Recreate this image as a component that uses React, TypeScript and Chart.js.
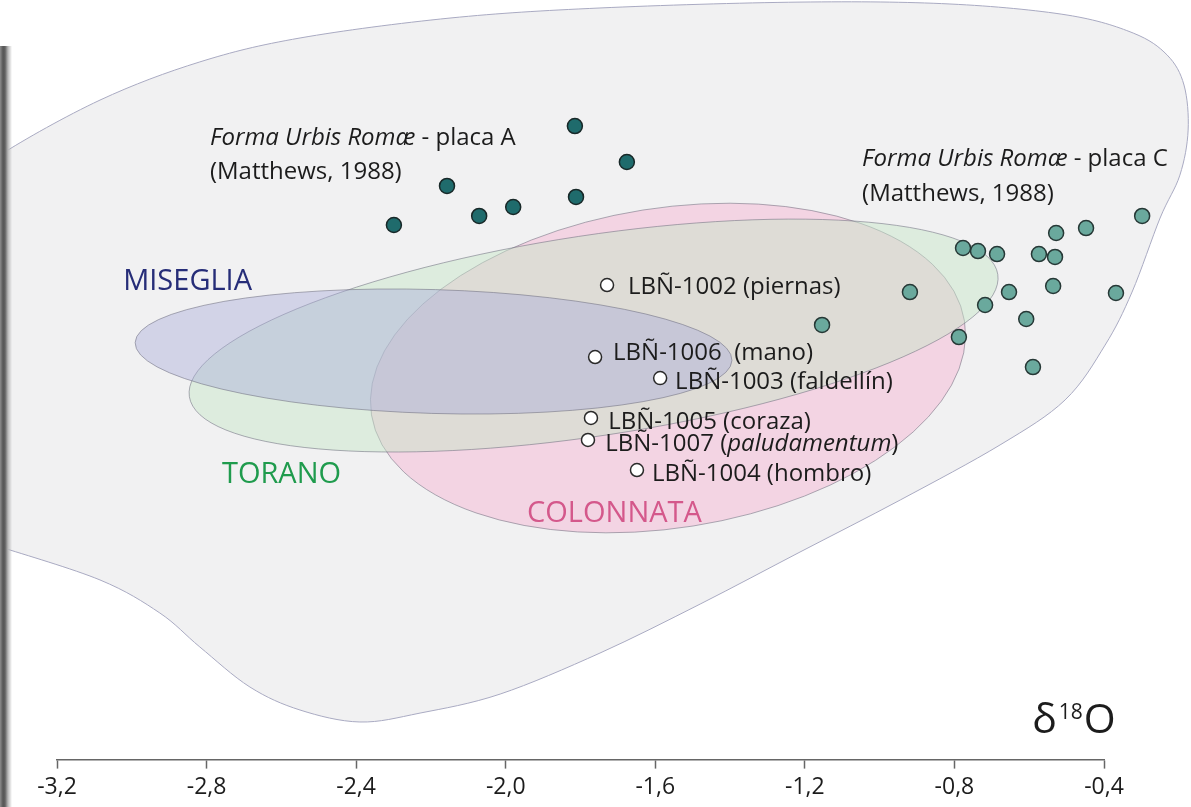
import React, { useEffect, useRef } from 'react';
import { Chart, registerables } from 'chart.js';

Chart.register(...registerables);

// ---------- axis ----------
const X_MIN = -3.2;
const X_MAX = -0.4;
const X_STEP = 0.4;
// hidden vertical axis (δ13C-like units)
const Y_MIN = 0;
const Y_MAX = 4;

// ---------- Forma Urbis Romæ – placa A (Matthews, 1988) ----------
const placaAX = [-1.815, -1.676, -2.157, -1.980, -2.071, -1.812, -2.299];
const placaAY = [3.336, 3.147, 3.021, 2.910, 2.863, 2.963, 2.815];

// ---------- Forma Urbis Romæ – placa C (Matthews, 1988) ----------
const placaCX = [-0.298, -0.448, -0.528, -0.777, -0.737, -0.686, -0.574, -0.531, -0.919, -0.368, -0.536, -0.654, -0.718, -0.608, -0.788, -0.590, -1.154];
const placaCY = [2.863, 2.799, 2.773, 2.694, 2.678, 2.662, 2.662, 2.647, 2.462, 2.457, 2.494, 2.462, 2.394, 2.320, 2.225, 2.067, 2.289];

// ---------- LBÑ samples ----------
const lbnNames = ['LBÑ-1002 (piernas)', 'LBÑ-1006  (mano)', 'LBÑ-1003 (faldellín)', 'LBÑ-1005 (coraza)', 'LBÑ-1007 (*paludamentum*)', 'LBÑ-1004 (hombro)'];
const lbnX = [-1.729, -1.761, -1.587, -1.772, -1.780, -1.649];
const lbnY = [2.499, 2.120, 2.009, 1.799, 1.683, 1.525];
const lbnLabelX = [-1.673, -1.713, -1.547, -1.726, -1.734, -1.609];
const lbnLabelY = [2.499, 2.152, 1.999, 1.788, 1.672, 1.514];

// ---------- general field (grey envelope), closed outline ----------
const fieldX = [-3.459, -3.352, -3.085, -2.818, -2.550, -2.149, -1.748, -1.213, -0.812, -0.499, -0.322, -0.231, -0.186, -0.175, -0.197, -0.250, -0.325, -0.397, -0.504, -0.678, -0.945, -1.213, -1.480, -1.748, -2.015, -2.229, -2.390, -2.550, -2.684, -2.818, -2.925, -3.085, -3.352, -3.459, -3.513];
const fieldY = [2.999, 3.184, 3.473, 3.674, 3.800, 3.905, 3.958, 3.989, 3.979, 3.921, 3.826, 3.710, 3.552, 3.315, 3.078, 2.852, 2.462, 2.183, 1.894, 1.657, 1.367, 1.093, 0.819, 0.561, 0.345, 0.245, 0.198, 0.261, 0.382, 0.593, 0.772, 0.946, 1.120, 1.183, 2.104];

// ---------- quarry ellipses: centre, end of semi-major axis, end of semi-minor axis ----------
const quarryNames = ['COLONNATA', 'TORANO', 'MISEGLIA'];
const quarryCX = [-1.566, -1.765, -2.193];
const quarryCY = [2.062, 2.233, 2.149];
const quarryAX = [-0.773, -0.684, -1.395];
const quarryAY = [2.309, 2.555, 2.102];
const quarryBX = [-1.499, -1.725, -2.198];
const quarryBY = [1.230, 1.711, 1.823];

// ---------- text annotations ----------
const noteText = ['*Forma Urbis Romæ* - placa A', '(Matthews, 1988)', '*Forma Urbis Romæ* - placa C', '(Matthews, 1988)', 'MISEGLIA', 'TORANO', 'COLONNATA'];
const noteX = [-2.791, -2.791, -1.047, -1.047, -3.023, -2.759, -1.943];
const noteY = [3.279, 3.105, 3.173, 2.989, 2.526, 1.509, 1.304];
const noteKind = ['ref', 'ref', 'ref', 'ref', 'MISEGLIA', 'TORANO', 'COLONNATA'];

const axisTitleX = -0.592;
const axisTitleY = 0.138;

// ---------- styles ----------
const FONT = '"Open Sans", "Noto Sans", sans-serif';
const quarryFill: Record<string, string> = {
  COLONNATA: 'rgba(246,186,212,0.52)',
  TORANO: 'rgba(198,230,200,0.47)',
  MISEGLIA: 'rgba(168,170,216,0.42)',
};
const noteStyle: Record<string, { size: number; color: string }> = {
  ref: { size: 24, color: '#1c1c1c' },
  MISEGLIA: { size: 29, color: '#262d78' },
  TORANO: { size: 29, color: '#1f9b4d' },
  COLONNATA: { size: 29, color: '#d4588b' },
};

function drawRich(ctx: CanvasRenderingContext2D, text: string, x: number, yCenter: number, size: number, color: string) {
  const parts = text.split('*');
  let cx = x;
  const base = yCenter + size * 0.357;
  ctx.fillStyle = color;
  ctx.textBaseline = 'alphabetic';
  ctx.textAlign = 'left';
  parts.forEach((part, i) => {
    if (!part) return;
    ctx.font = `${i % 2 === 1 ? 'italic ' : ''}${size}px ${FONT}`;
    ctx.fillText(part, cx, base);
    cx += ctx.measureText(part).width;
  });
}

const shapesPlugin = {
  id: 'shapes',
  beforeDatasetsDraw(chart: any) {
    const ctx: CanvasRenderingContext2D = chart.ctx;
    const xs = chart.scales.x;
    const ys = chart.scales.y;
    // grey field
    const pts = fieldX.map((x, i) => [xs.getPixelForValue(x), ys.getPixelForValue(fieldY[i])]);
    const n = pts.length;
    ctx.save();
    ctx.beginPath();
    ctx.moveTo(pts[0][0], pts[0][1]);
    for (let i = 0; i < n; i++) {
      const p0 = pts[(i - 1 + n) % n];
      const p1 = pts[i];
      const p2 = pts[(i + 1) % n];
      const p3 = pts[(i + 2) % n];
      ctx.bezierCurveTo(
        p1[0] + (p2[0] - p0[0]) / 6, p1[1] + (p2[1] - p0[1]) / 6,
        p2[0] - (p3[0] - p1[0]) / 6, p2[1] - (p3[1] - p1[1]) / 6,
        p2[0], p2[1]
      );
    }
    ctx.closePath();
    ctx.fillStyle = '#f1f1f2';
    ctx.fill();
    ctx.strokeStyle = '#a9aac2';
    ctx.lineWidth = 1;
    ctx.stroke();

    // quarry ellipses
    quarryNames.forEach((name, i) => {
      const cx = xs.getPixelForValue(quarryCX[i]);
      const cy = ys.getPixelForValue(quarryCY[i]);
      const ax = xs.getPixelForValue(quarryAX[i]) - cx;
      const ay = ys.getPixelForValue(quarryAY[i]) - cy;
      const bx = xs.getPixelForValue(quarryBX[i]) - cx;
      const by = ys.getPixelForValue(quarryBY[i]) - cy;
      ctx.save();
      ctx.beginPath();
      ctx.transform(ax, ay, bx, by, cx, cy);
      ctx.arc(0, 0, 1, 0, Math.PI * 2);
      ctx.restore();
      ctx.fillStyle = quarryFill[name];
      ctx.fill();
      ctx.strokeStyle = 'rgba(110,110,125,0.55)';
      ctx.lineWidth = 1;
      ctx.stroke();
    });
    ctx.restore();

    // let the point markers that sit beyond -0,4 be drawn as well
    chart.$savedArea = chart.chartArea;
    chart.chartArea = { left: 0, top: 0, right: chart.width, bottom: chart.height, width: chart.width, height: chart.height };
  },
  afterDatasetsDraw(chart: any) {
    if (chart.$savedArea) {
      chart.chartArea = chart.$savedArea;
      chart.$savedArea = null;
    }
    const ctx: CanvasRenderingContext2D = chart.ctx;
    const xs = chart.scales.x;
    const ys = chart.scales.y;
    ctx.save();
    noteText.forEach((t, i) => {
      const st = noteStyle[noteKind[i]];
      drawRich(ctx, t, xs.getPixelForValue(noteX[i]), ys.getPixelForValue(noteY[i]), st.size, st.color);
    });
    lbnNames.forEach((t, i) => {
      drawRich(ctx, t, xs.getPixelForValue(lbnLabelX[i]), ys.getPixelForValue(lbnLabelY[i]), 24, '#1c1c1c');
    });
    // axis title δ18O
    const tx = xs.getPixelForValue(axisTitleX);
    const ty = ys.getPixelForValue(axisTitleY);
    ctx.fillStyle = '#1c1c1c';
    ctx.textBaseline = 'alphabetic';
    ctx.font = `41px ${FONT}`;
    ctx.fillText('δ', tx, ty);
    let cx = tx + ctx.measureText('δ').width + 2;
    ctx.font = `21px ${FONT}`;
    ctx.fillText('18', cx, ty - 14);
    cx += ctx.measureText('18').width + 1;
    ctx.font = `41px ${FONT}`;
    ctx.fillText('O', cx, ty);
    ctx.restore();
  },
};

export default function App() {
  const canvasRef = useRef<HTMLCanvasElement | null>(null);

  useEffect(() => {
    if (!canvasRef.current) return;
    const chart = new Chart(canvasRef.current, {
      type: 'scatter',
      data: {
        datasets: [
          {
            label: 'LBÑ',
            data: lbnX.map((x, i) => ({ x, y: lbnY[i] })),
            pointRadius: 6.5,
            backgroundColor: '#ffffff',
            borderColor: '#2a2a2a',
            borderWidth: 1.5,
            clip: false,
          },
          {
            label: 'Forma Urbis Romæ - placa A',
            data: placaAX.map((x, i) => ({ x, y: placaAY[i] })),
            pointRadius: 7.5,
            backgroundColor: '#1f6b6c',
            borderColor: '#182828',
            borderWidth: 1.5,
            clip: false,
          },
          {
            label: 'Forma Urbis Romæ - placa C',
            data: placaCX.map((x, i) => ({ x, y: placaCY[i] })),
            pointRadius: 7.5,
            backgroundColor: '#6aa99d',
            borderColor: '#263836',
            borderWidth: 1.5,
            clip: false,
          },
        ] as any,
      },
      options: {
        animation: false,
        responsive: true,
        maintainAspectRatio: false,
        events: [],
        layout: { autoPadding: false, padding: { left: 57, right: 87, top: 0, bottom: 1.4 } },
        plugins: { legend: { display: false }, tooltip: { enabled: false } },
        scales: {
          x: {
            type: 'linear',
            position: 'bottom',
            min: X_MIN,
            max: X_MAX,
            border: { display: true, color: '#666666', width: 1.5 },
            grid: { display: true, drawOnChartArea: false, drawTicks: true, tickLength: 9, tickColor: '#666666', tickWidth: 1.5 },
            ticks: {
              stepSize: X_STEP,
              autoSkip: false,
              maxRotation: 0,
              padding: 7,
              color: '#1c1c1c',
              font: { family: FONT, size: 23, lineHeight: 1.0 },
              callback: (v: any) => Number(v).toFixed(1).replace('.', ','),
            },
          },
          y: { display: false, min: Y_MIN, max: Y_MAX },
        },
      } as any,
      plugins: [shapesPlugin],
    });
    return () => chart.destroy();
  }, []);

  return (
    <div style={{ position: 'absolute', left: 0, top: 0, width: 1191, height: 807, background: '#ffffff', overflow: 'hidden' }}>
      <canvas ref={canvasRef} />
      <div
        style={{
          position: 'absolute',
          left: 0,
          top: 46,
          width: 12,
          height: 761,
          pointerEvents: 'none',
          background: 'linear-gradient(to right, #8c8c8c 0px, #565656 3px, #606060 5px, #b8b8b8 8px, rgba(255,255,255,0) 12px)',
        }}
      />
    </div>
  );
}
